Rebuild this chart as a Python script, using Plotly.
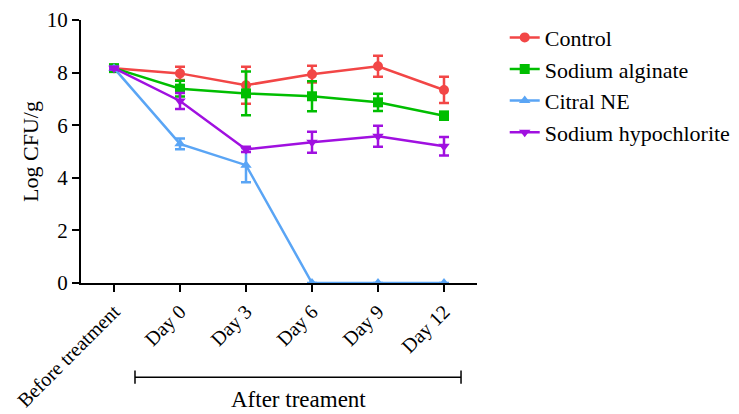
import plotly.graph_objects as go

categories = ["Before treatment", "Day 0", "Day 3", "Day 6", "Day 9", "Day 12"]
control = [8.17, 7.97, 7.52, 7.94, 8.24, 7.34]
control_err = [0.05, 0.25, 0.7, 0.32, 0.4, 0.5]
alginate = [8.17, 7.39, 7.21, 7.10, 6.87, 6.36]
alginate_err = [0.05, 0.3, 0.83, 0.57, 0.33, 0.15]
citral = [8.17, 5.29, 4.48, 0, 0, 0]
citral_err = [0.05, 0.2, 0.65, 0, 0, 0]
hypo = [8.17, 6.92, 5.08, 5.35, 5.58, 5.20]
hypo_err = [0.05, 0.3, 0.1, 0.4, 0.4, 0.35]

names = ["Control", "Sodium alginate", "Citral NE", "Sodium hypochlorite"]
series = [control, alginate, citral, hypo]
errs = [control_err, alginate_err, citral_err, hypo_err]
colors = ["#F24646", "#00BE00", "#5AA5F5", "#A010E0"]
symbols = ["circle", "square", "triangle-up", "triangle-down"]

fig = go.Figure()
xs = list(range(len(categories)))
for n, s, e, c, m in zip(names, series, errs, colors, symbols):
    fig.add_trace(go.Scatter(
        x=xs, y=s, name=n, mode="lines+markers",
        line=dict(color=c, width=2.5),
        marker=dict(color=c, symbol=m, size=10),
        error_y=dict(type="data", array=e, color=c, thickness=2.5, width=5),
    ))

font = "Liberation Serif"
fig.update_layout(
    width=739, height=414,
    margin=dict(l=81, r=262, t=20, b=131, autoexpand=False),
    plot_bgcolor="white", paper_bgcolor="white",
    font=dict(family=font, size=21, color="black"),
    showlegend=True,
    legend=dict(x=1.07, y=1.013, xanchor="left", yanchor="top",
                font=dict(family=font, size=22), tracegroupgap=0,
                itemwidth=30),
    xaxis=dict(
        range=[-0.5, 5.5], tickmode="array", tickvals=xs, ticktext=categories,
        tickangle=-45, showgrid=False, zeroline=False, automargin=False,
        showline=True, linecolor="black", linewidth=2,
        ticks="outside", ticklen=7, tickwidth=2, tickcolor="black",
        tickfont=dict(family=font, size=20),
    ),
    yaxis=dict(
        range=[0, 10], tickvals=[0, 2, 4, 6, 8, 10], showgrid=False, zeroline=False,
        automargin=False,
        showline=True, linecolor="black", linewidth=2,
        ticks="outside", ticklen=7, tickwidth=2, tickcolor="black",
        tickfont=dict(family=font, size=21),
        title=dict(text="Log CFU/g", font=dict(family=font, size=22), standoff=2),
    ),
)

# After treatment bracket
y_br = -0.358
fig.add_shape(type="line", xref="x", yref="paper", x0=0.318, x1=5.258, y0=y_br, y1=y_br,
              line=dict(color="black", width=1.5))
for xv in [0.318, 5.258]:
    fig.add_shape(type="line", xref="x", yref="paper", x0=xv, x1=xv, y0=y_br - 0.025, y1=y_br + 0.025,
                  line=dict(color="black", width=1.5))
fig.add_annotation(text="After treament", xref="x", yref="paper", x=2.79, y=-0.498,
                   showarrow=False, font=dict(family=font, size=23), yanchor="bottom")

fig.write_html("out.html")
